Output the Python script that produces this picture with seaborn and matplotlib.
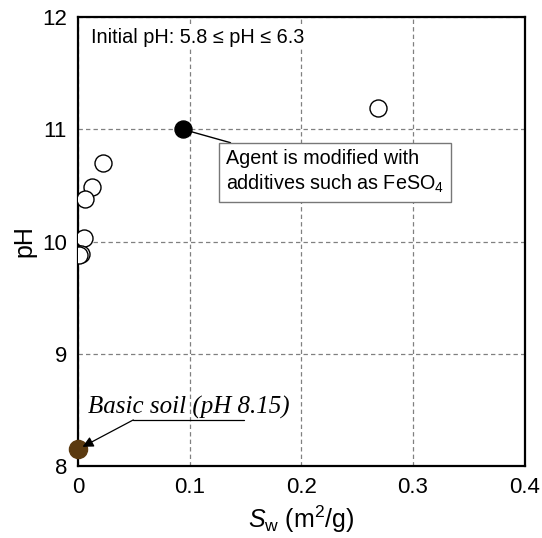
import numpy as np
import pandas as pd
import matplotlib
matplotlib.use('Agg')
import matplotlib.pyplot as plt
import seaborn as sns

# data
sw_open = [0.269, 0.022, 0.0125, 0.006, 0.005, 0.003, 0.001]
ph_open = [11.19, 10.70, 10.49, 10.38, 10.03, 9.89, 9.88]
sw_agent = [0.094]
ph_agent = [11.0]
sw_soil = [0.0]
ph_soil = [8.15]

x_ticks = [0, 0.1, 0.2, 0.3, 0.4]
x_tick_labels = ['0', '0.1', '0.2', '0.3', '0.4']
y_ticks = [8, 9, 10, 11, 12]

sns.set_style('white')
plt.rcParams['font.family'] = ['Liberation Sans', 'DejaVu Sans']
plt.rcParams['mathtext.fontset'] = 'custom'
plt.rcParams['mathtext.rm'] = 'Liberation Sans'
plt.rcParams['mathtext.it'] = 'Liberation Sans:italic'
plt.rcParams['text.color'] = 'black'
plt.rcParams['axes.labelcolor'] = 'black'

fig, ax = plt.subplots(figsize=(5.42, 5.38), dpi=100)
fig.subplots_adjust(left=0.144, right=0.968, top=0.968, bottom=0.134)

df_open = pd.DataFrame({'sw': sw_open, 'ph': ph_open})
sns.scatterplot(data=df_open, x='sw', y='ph', ax=ax, s=150, facecolor='white',
                edgecolor='black', linewidth=1.0, zorder=3)
sns.scatterplot(x=sw_agent, y=ph_agent, ax=ax, s=150, color='black',
                edgecolor='black', linewidth=1.0, zorder=3)
sns.scatterplot(x=sw_soil, y=ph_soil, ax=ax, s=170, color='#5b3a10',
                edgecolor='#5b3a10', linewidth=1.0, zorder=3, clip_on=False)

ax.set_xlim(0, 0.4)
ax.set_ylim(8, 12)
ax.set_xticks(x_ticks)
ax.set_xticklabels(x_tick_labels)
ax.set_yticks(y_ticks)
ax.grid(True, linestyle=(0, (3.5, 2.5)), color='#808080', linewidth=0.9)
ax.set_axisbelow(True)
for sp in ax.spines.values():
    sp.set_color('black')
    sp.set_linewidth(1.6)
ax.tick_params(direction='in', length=6, width=1.4, labelsize=16, colors='black', pad=8)

ax.set_xlabel(r'$\mathit{S}_\mathrm{w}$ (m$^2$/g)', fontsize=18, labelpad=4)
ax.set_ylabel('pH', fontsize=18, labelpad=4)

ax.text(0.03, 0.975, 'Initial pH: 5.8 \u2264 pH \u2264 6.3', transform=ax.transAxes,
        ha='left', va='top', fontsize=14.3,
        bbox=dict(facecolor='white', edgecolor='none', pad=1))

ax.annotate('Agent is modified with\nadditives such as FeSO$_4$',
            xy=(sw_agent[0], ph_agent[0]), xytext=(0.1325, 10.62),
            fontsize=14.2, ha='left', va='center', linespacing=1.3,
            bbox=dict(boxstyle='square,pad=0.35', facecolor='white', edgecolor='#777777', linewidth=1),
            arrowprops=dict(arrowstyle='-', color='black', linewidth=1, shrinkA=0, shrinkB=4))

ax.text(0.009, 8.47, 'Basic soil (pH 8.15)', fontsize=18, style='italic',
        family='Liberation Serif', ha='left', va='baseline')
ax.plot([0.0495, 0.149], [8.41, 8.41], color='black', linewidth=0.9)
ax.annotate('', xy=(0.004, 8.17), xytext=(0.0495, 8.41),
            arrowprops=dict(arrowstyle='-|>', color='black', linewidth=0.9,
                            mutation_scale=16, shrinkA=0, shrinkB=0))

plt.savefig('out.png', dpi=100)
